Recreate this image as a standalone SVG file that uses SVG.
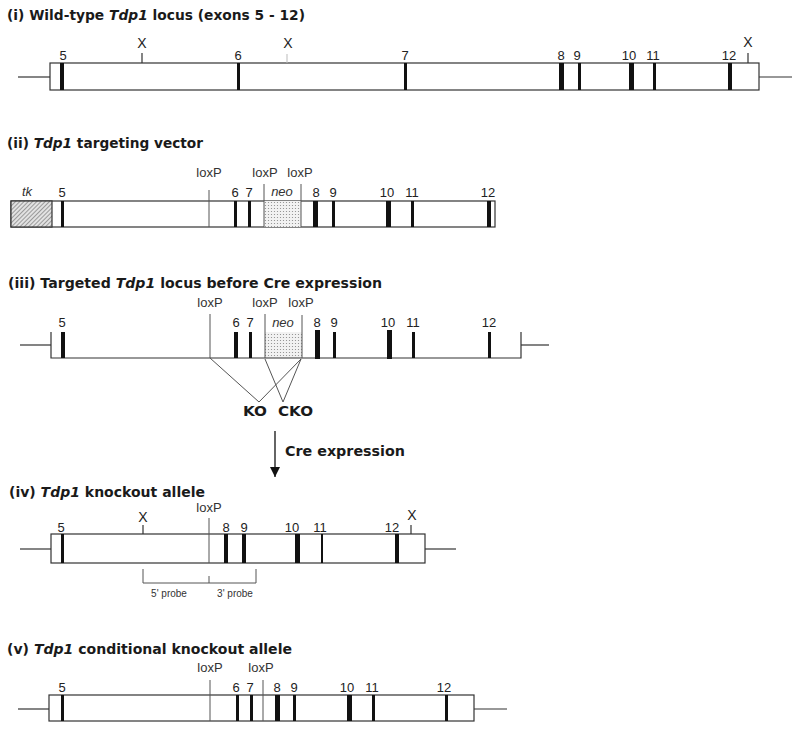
<svg xmlns="http://www.w3.org/2000/svg" width="800" height="731" viewBox="0 0 800 731">
<defs>
  <pattern id="hatch" width="3" height="3" patternUnits="userSpaceOnUse" patternTransform="rotate(45)">
    <rect width="3" height="3" fill="#e2e2e2"/>
    <line x1="0" y1="0" x2="0" y2="3" stroke="#6a6a6a" stroke-width="1.2"/>
  </pattern>
  <pattern id="dots" width="3" height="3" patternUnits="userSpaceOnUse">
    <rect width="3" height="3" fill="#f2f2f2"/>
    <circle cx="1.5" cy="1.5" r="0.6" fill="#888"/>
  </pattern>
  <marker id="arrow" viewBox="0 0 10 10" refX="10" refY="5" markerWidth="10" markerHeight="10" markerUnits="userSpaceOnUse" orient="auto">
    <path d="M0,0 L10,5 L0,10 z" fill="#111"/>
  </marker>
</defs>
<style>
  .title{font-family:"DejaVu Sans","Liberation Sans",sans-serif;font-weight:bold;font-size:13.5px;fill:#1a1a1a}
  .num{font-family:"Liberation Sans",Arial,sans-serif;font-size:13px;fill:#222;text-anchor:middle}
  .lox{font-family:"Liberation Sans",Arial,sans-serif;font-size:13px;fill:#333;text-anchor:middle}
  .x{font-family:"Liberation Sans",Arial,sans-serif;font-size:14px;fill:#222;text-anchor:middle}
  .ital{font-family:"Liberation Sans",Arial,sans-serif;font-size:13px;font-style:italic;fill:#333;text-anchor:middle}
  .small{font-family:"Liberation Sans",Arial,sans-serif;font-size:10px;fill:#333;text-anchor:middle}
  .box{fill:#fff;stroke:#333;stroke-width:1.2}
  .ln{stroke:#333;stroke-width:1.2;fill:none}
  .lnl{stroke:#555;stroke-width:1;fill:none}
  .ex{fill:#111}
  .ko{font-family:"DejaVu Sans","Liberation Sans",sans-serif;font-weight:bold;font-size:14px;fill:#1a1a1a}
</style>

<!-- (i) wild-type -->
<g id="wildtype">
  <text class="title" x="7" y="20" textLength="298" lengthAdjust="spacingAndGlyphs">(i) Wild-type <tspan font-style="italic">Tdp1</tspan> locus (exons 5 - 12)</text>
  <line class="ln" x1="18" y1="77" x2="50" y2="77"/>
  <line class="ln" x1="759" y1="77" x2="792" y2="77"/>
  <rect class="box" x="50" y="63" width="709" height="27"/>
  <rect class="ex" x="60" y="63" width="4" height="27"/>
  <rect class="ex" x="237" y="63" width="3" height="27"/>
  <rect class="ex" x="404" y="63" width="3" height="27"/>
  <rect class="ex" x="559" y="63" width="5" height="27"/>
  <rect class="ex" x="578" y="63" width="3" height="27"/>
  <rect class="ex" x="629" y="63" width="5" height="27"/>
  <rect class="ex" x="653" y="63" width="3" height="27"/>
  <rect class="ex" x="728" y="63" width="4" height="27"/>
  <text class="num" x="63" y="60">5</text>
  <text class="num" x="238" y="60">6</text>
  <text class="num" x="405" y="60">7</text>
  <text class="num" x="561" y="60">8</text>
  <text class="num" x="577" y="60">9</text>
  <text class="num" x="629" y="60">10</text>
  <text class="num" x="653" y="60">11</text>
  <text class="num" x="729" y="60">12</text>
  <line class="ln" x1="142" y1="53" x2="142" y2="63"/>
  <text class="x" x="142" y="48">X</text>
  <line x1="287" y1="54" x2="287" y2="63" stroke="#bbb" stroke-width="1"/>
  <text class="x" x="288" y="48">X</text>
  <line class="ln" x1="748" y1="53" x2="748" y2="63"/>
  <text class="x" x="748" y="47">X</text>
</g>

<!-- (ii) targeting vector -->
<g id="vector">
  <text class="title" x="7" y="148" textLength="196" lengthAdjust="spacingAndGlyphs">(ii) <tspan font-style="italic">Tdp1</tspan> targeting vector</text>
  <rect class="box" x="11" y="201" width="484" height="26"/>
  <rect x="11" y="201" width="41" height="26" fill="url(#hatch)" stroke="#333" stroke-width="1.2"/>
  <rect x="264" y="201" width="37" height="26" fill="url(#dots)"/>
  <rect class="ex" x="61" y="201" width="3" height="26"/>
  <rect class="ex" x="234" y="201" width="3" height="26"/>
  <rect class="ex" x="248" y="201" width="3" height="26"/>
  <rect class="ex" x="313" y="201" width="5" height="26"/>
  <rect class="ex" x="332" y="201" width="3" height="26"/>
  <rect class="ex" x="386" y="201" width="5" height="26"/>
  <rect class="ex" x="411" y="201" width="3" height="26"/>
  <rect class="ex" x="487" y="201" width="4" height="26"/>
  <line class="lnl" x1="209" y1="190" x2="209" y2="227"/>
  <line class="lnl" x1="264" y1="184" x2="264" y2="227"/>
  <line class="lnl" x1="301" y1="184" x2="301" y2="227"/>
  <text class="lox" x="209" y="177">loxP</text>
  <text class="lox" x="265" y="177">loxP</text>
  <text class="lox" x="300" y="177">loxP</text>
  <text class="ital" x="27" y="196">tk</text>
  <text class="ital" x="282" y="196">neo</text>
  <text class="num" x="62" y="197">5</text>
  <text class="num" x="235" y="197">6</text>
  <text class="num" x="249" y="197">7</text>
  <text class="num" x="316" y="197">8</text>
  <text class="num" x="333" y="197">9</text>
  <text class="num" x="387" y="197">10</text>
  <text class="num" x="412" y="197">11</text>
  <text class="num" x="488" y="197">12</text>
</g>

<!-- (iii) targeted locus -->
<g id="targeted">
  <text class="title" x="8" y="288" textLength="374" lengthAdjust="spacingAndGlyphs">(iii) Targeted <tspan font-style="italic">Tdp1</tspan> locus before Cre expression</text>
  <line class="ln" x1="20" y1="345" x2="51" y2="345"/>
  <line class="ln" x1="521" y1="345" x2="549" y2="345"/>
  <rect x="265" y="332" width="37" height="26" fill="url(#dots)"/>
  <polyline class="ln" points="51,332 51,358 521,358 521,332"/>
  <rect class="ex" x="61" y="332" width="4" height="26"/>
  <rect class="ex" x="234" y="332" width="4" height="26"/>
  <rect class="ex" x="249" y="332" width="3" height="26"/>
  <rect class="ex" x="315" y="330" width="5" height="29"/>
  <rect class="ex" x="333" y="332" width="3" height="26"/>
  <rect class="ex" x="387" y="330" width="5" height="29"/>
  <rect class="ex" x="412" y="332" width="3" height="26"/>
  <rect class="ex" x="488" y="332" width="3" height="26"/>
  <line class="lnl" x1="210" y1="314" x2="210" y2="358"/>
  <line class="lnl" x1="265" y1="314" x2="265" y2="358"/>
  <line class="lnl" x1="302" y1="315" x2="302" y2="358"/>
  <text class="lox" x="210" y="307">loxP</text>
  <text class="lox" x="265" y="307">loxP</text>
  <text class="lox" x="301" y="307">loxP</text>
  <text class="ital" x="283" y="327">neo</text>
  <text class="num" x="62" y="327">5</text>
  <text class="num" x="236" y="327">6</text>
  <text class="num" x="250" y="327">7</text>
  <text class="num" x="317" y="327">8</text>
  <text class="num" x="334" y="327">9</text>
  <text class="num" x="388" y="327">10</text>
  <text class="num" x="413" y="327">11</text>
  <text class="num" x="489" y="327">12</text>
</g>

<!-- KO / CKO and Cre expression -->
<g id="connectors">
  <polyline class="lnl" points="210,358 259,402 301,359"/>
  <polyline class="lnl" points="265,359 283,402 301,359"/>
  <line x1="275" y1="431" x2="275" y2="477" stroke="#111" stroke-width="1.3" marker-end="url(#arrow)"/>
</g>
<g id="labels-ko">
  <text class="ko" x="243" y="416" textLength="24" lengthAdjust="spacingAndGlyphs">KO</text>
  <text class="ko" x="278" y="416" textLength="35" lengthAdjust="spacingAndGlyphs">CKO</text>
  <text class="title" x="285" y="456" textLength="120" lengthAdjust="spacingAndGlyphs">Cre expression</text>
</g>

<!-- (iv) knockout allele -->
<g id="knockout">
  <text class="title" x="9" y="497" textLength="196" lengthAdjust="spacingAndGlyphs">(iv) <tspan font-style="italic">Tdp1</tspan> knockout allele</text>
  <line class="ln" x1="20" y1="549" x2="51" y2="549"/>
  <line class="ln" x1="425" y1="549" x2="456" y2="549"/>
  <rect class="box" x="51" y="534" width="374" height="29"/>
  <rect class="ex" x="61" y="534" width="3" height="29"/>
  <rect class="ex" x="224" y="534" width="4" height="29"/>
  <rect class="ex" x="242" y="534" width="4" height="29"/>
  <rect class="ex" x="295" y="534" width="5" height="29"/>
  <rect class="ex" x="321" y="534" width="2" height="29"/>
  <rect class="ex" x="395" y="534" width="4" height="29"/>
  <line class="lnl" x1="209" y1="518" x2="209" y2="563"/>
  <text class="lox" x="209" y="512">loxP</text>
  <line class="ln" x1="143" y1="525" x2="143" y2="534"/>
  <text class="x" x="143" y="522">X</text>
  <line class="ln" x1="411" y1="525" x2="411" y2="534"/>
  <text class="x" x="412" y="520">X</text>
  <text class="num" x="61" y="532">5</text>
  <text class="num" x="226" y="532">8</text>
  <text class="num" x="244" y="532">9</text>
  <text class="num" x="292" y="532">10</text>
  <text class="num" x="320" y="532">11</text>
  <text class="num" x="392" y="532">12</text>
  <polyline class="lnl" points="143,569 143,583 256,583 256,569"/>
  <line class="lnl" x1="209" y1="576" x2="209" y2="583"/>
  <text class="small" x="169" y="597">5' probe</text>
  <text class="small" x="235" y="597">3' probe</text>
</g>

<!-- (v) conditional knockout allele -->
<g id="conditional">
  <text class="title" x="7" y="654" textLength="285" lengthAdjust="spacingAndGlyphs">(v) <tspan font-style="italic">Tdp1</tspan> conditional knockout allele</text>
  <line class="ln" x1="18" y1="709" x2="49" y2="709"/>
  <line class="ln" x1="474" y1="709" x2="507" y2="709"/>
  <rect class="box" x="49" y="695" width="425" height="26"/>
  <rect class="ex" x="61" y="695" width="3" height="26"/>
  <rect class="ex" x="236" y="695" width="3" height="26"/>
  <rect class="ex" x="250" y="695" width="3" height="26"/>
  <rect class="ex" x="275" y="695" width="5" height="26"/>
  <rect class="ex" x="293" y="695" width="3" height="26"/>
  <rect class="ex" x="347" y="695" width="5" height="26"/>
  <rect class="ex" x="372" y="695" width="3" height="26"/>
  <rect class="ex" x="445" y="695" width="3" height="26"/>
  <line class="lnl" x1="210" y1="680" x2="210" y2="721"/>
  <line class="lnl" x1="263" y1="680" x2="263" y2="721"/>
  <text class="lox" x="210" y="672">loxP</text>
  <text class="lox" x="261" y="672">loxP</text>
  <text class="num" x="62" y="692">5</text>
  <text class="num" x="236" y="692">6</text>
  <text class="num" x="250" y="692">7</text>
  <text class="num" x="277" y="692">8</text>
  <text class="num" x="294" y="692">9</text>
  <text class="num" x="347" y="692">10</text>
  <text class="num" x="372" y="692">11</text>
  <text class="num" x="444" y="692">12</text>
</g>
</svg>
